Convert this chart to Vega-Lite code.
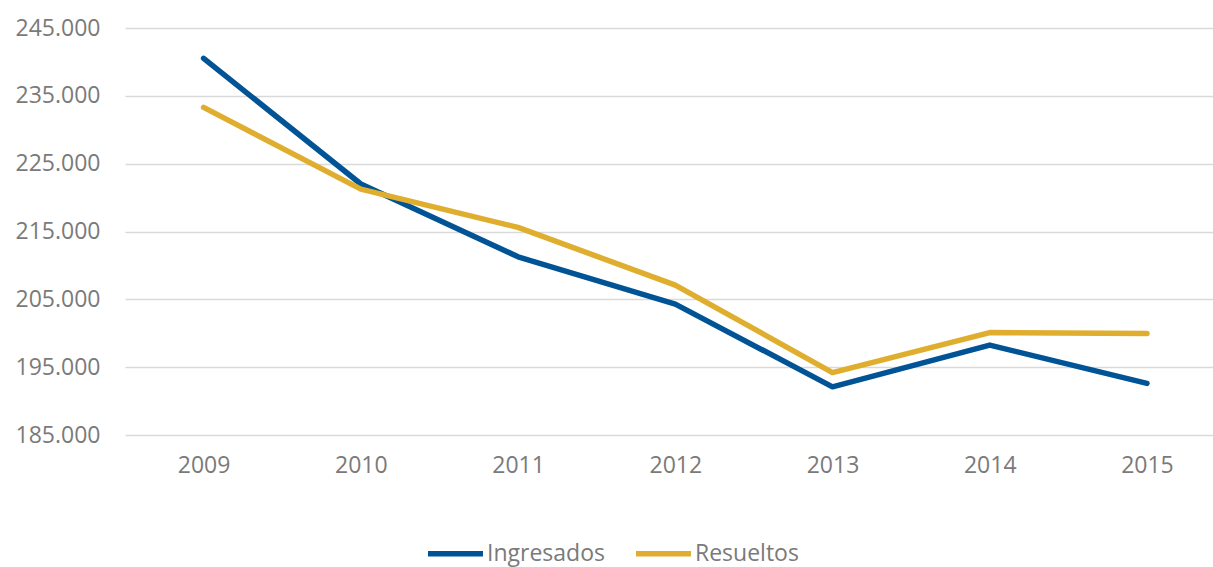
{
  "$schema": "https://vega.github.io/schema/vega-lite/v6.json",
  "autosize": "none",
  "width": 1088,
  "height": 407,
  "padding": {"left": 125, "top": 28, "right": 0, "bottom": 132},
  "background": "white",
  "config": {
    "view": {"stroke": null},
    "font": "Open Sans"
  },
  "data": {
    "values": [
      {"year": 2009, "serie": "Ingresados", "valor": 240530},
      {"year": 2010, "serie": "Ingresados", "valor": 222000},
      {"year": 2011, "serie": "Ingresados", "valor": 211270},
      {"year": 2012, "serie": "Ingresados", "valor": 204300},
      {"year": 2013, "serie": "Ingresados", "valor": 192100},
      {"year": 2014, "serie": "Ingresados", "valor": 198250},
      {"year": 2015, "serie": "Ingresados", "valor": 192600},
      {"year": 2009, "serie": "Resueltos", "valor": 233300},
      {"year": 2010, "serie": "Resueltos", "valor": 221250},
      {"year": 2011, "serie": "Resueltos", "valor": 215600},
      {"year": 2012, "serie": "Resueltos", "valor": 207100},
      {"year": 2013, "serie": "Resueltos", "valor": 194200},
      {"year": 2014, "serie": "Resueltos", "valor": 200100},
      {"year": 2015, "serie": "Resueltos", "valor": 199950}
    ]
  },
  "mark": {"type": "line", "strokeWidth": 5.5, "strokeCap": "round", "strokeJoin": "round"},
  "encoding": {
    "x": {
      "field": "year",
      "type": "quantitative",
      "scale": {"domain": [2008.5, 2015.42], "nice": false, "zero": false},
      "axis": {
        "title": null,
        "values": [2009, 2010, 2011, 2012, 2013, 2014, 2015],
        "format": "d",
        "grid": false,
        "domain": false,
        "ticks": false,
        "labelFontSize": 23,
        "labelColor": "#7a7a7a",
        "labelPadding": 19,
        "labelFlush": false
      }
    },
    "y": {
      "field": "valor",
      "type": "quantitative",
      "scale": {"domain": [185000, 245000], "nice": false, "zero": false},
      "axis": {
        "title": null,
        "values": [185000, 195000, 205000, 215000, 225000, 235000, 245000],
        "labelExpr": "replace(format(datum.value, ','), ',', '.')",
        "grid": true,
        "gridColor": "#d9d9d9",
        "gridWidth": 1.5,
        "domain": false,
        "ticks": false,
        "labelFontSize": 23,
        "labelColor": "#7a7a7a",
        "labelPadding": 25
      }
    },
    "color": {
      "field": "serie",
      "type": "nominal",
      "scale": {"domain": ["Ingresados", "Resueltos"], "range": ["#005496", "#E0AE2E"]},
      "legend": {
        "title": null,
        "orient": "none",
        "direction": "horizontal",
        "legendX": 300,
        "legendY": 495,
        "symbolType": "stroke",
        "symbolSize": 3025,
        "symbolStrokeWidth": 5.5,
        "labelFontSize": 23,
        "labelColor": "#7a7a7a",
        "labelOffset": 1,
        "columnPadding": 20
      }
    }
  }
}
